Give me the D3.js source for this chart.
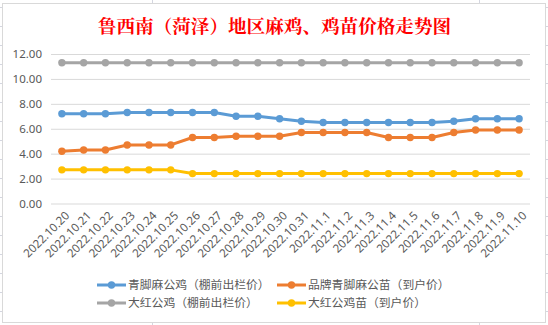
<!DOCTYPE html>
<html><head><meta charset="utf-8">
<script src="https://cdn.jsdelivr.net/npm/d3@7"></script>
<style>html,body{margin:0;padding:0;background:#fff;}svg{display:block;}</style>
</head><body>
<svg id="c" width="548" height="325"></svg>
<script>
const title = "鲁西南（菏泽）地区麻鸡、鸡苗价格走势图";
const categories = ["2022.10.20","2022.10.21","2022.10.22","2022.10.23","2022.10.24","2022.10.25","2022.10.26","2022.10.27","2022.10.28","2022.10.29","2022.10.30","2022.10.31","2022.11.1","2022.11.2","2022.11.3","2022.11.4","2022.11.5","2022.11.6","2022.11.7","2022.11.8","2022.11.9","2022.11.10"];
const seriesNames = ["青脚麻公鸡（棚前出栏价）","品牌青脚麻公苗（到户价）","大红公鸡（棚前出栏价）","大红公鸡苗（到户价）"];
const qingjiao = [7.2,7.2,7.2,7.3,7.3,7.3,7.3,7.3,7.0,7.0,6.8,6.6,6.5,6.5,6.5,6.5,6.5,6.5,6.6,6.8,6.8,6.8];
const pinpai   = [4.2,4.3,4.3,4.7,4.7,4.7,5.3,5.3,5.4,5.4,5.4,5.7,5.7,5.7,5.7,5.3,5.3,5.3,5.7,5.9,5.9,5.9];
const dahong   = [11.3,11.3,11.3,11.3,11.3,11.3,11.3,11.3,11.3,11.3,11.3,11.3,11.3,11.3,11.3,11.3,11.3,11.3,11.3,11.3,11.3,11.3];
const dahongMiao = [2.7,2.7,2.7,2.7,2.7,2.7,2.4,2.4,2.4,2.4,2.4,2.4,2.4,2.4,2.4,2.4,2.4,2.4,2.4,2.4,2.4,2.4];
const yTicks = [0,2,4,6,8,10,12];
const colors = ["#5B9BD5","#ED7D31","#A5A5A5","#FFC000"];

const series = [qingjiao, pinpai, dahong, dahongMiao];
const svg = d3.select("#c");

// spreadsheet cell lines outside chart
const cellG = svg.append("g").attr("stroke","#d4d6e0").attr("stroke-width",1);
for (let y = 7.5; y < 325; y += 19) {
  cellG.append("line").attr("x1",0).attr("x2",2).attr("y1",y).attr("y2",y);
  cellG.append("line").attr("x1",546).attr("x2",548).attr("y1",y).attr("y2",y);
}
[152.5, 479.5].forEach(x => {
  cellG.append("line").attr("x1",x).attr("x2",x).attr("y1",0).attr("y2",3);
  cellG.append("line").attr("x1",x).attr("x2",x).attr("y1",323).attr("y2",325);
});

// chart area
svg.append("rect").attr("x",2.5).attr("y",3.5).attr("width",543).attr("height",319)
  .attr("fill","#fff").attr("stroke","#d9d9d9");

svg.append("text").attr("x",274.5).attr("y",33).attr("text-anchor","middle")
  .attr("fill","#FF0000").attr("font-weight","bold")
  .attr("font-family","'Noto Serif CJK SC','Noto Sans CJK SC',serif").attr("font-size","18.6px")
  .text(title);

const x = d3.scalePoint().domain(categories).range([51,530]).padding(0.5);
const y = d3.scaleLinear().domain([0,12]).range([203.5,54]);

// gridlines
const yAxis = d3.axisLeft(y).tickValues(yTicks).tickSize(-(530-51)).tickFormat(d3.format(".2f"));
const ga = svg.append("g").attr("transform","translate(51,0)").call(yAxis);
ga.select(".domain").remove();
ga.selectAll(".tick line").attr("stroke","#d9d9d9").attr("stroke-width",1);
ga.selectAll(".tick text").attr("x",-9).attr("fill","#595959")
  .attr("font-family","'Noto Sans','Liberation Sans',sans-serif").attr("font-size","11.5px");

// x labels
const xAxis = d3.axisBottom(x).tickSize(0);
const gx = svg.append("g").attr("transform","translate(0,203.5)").call(xAxis);
gx.select(".domain").remove();
gx.selectAll(".tick text")
  .attr("fill","#595959").attr("font-family","'Noto Sans','Liberation Sans',sans-serif").attr("font-size","11.6px")
  .attr("text-anchor","end").attr("y",0).attr("dy","0.35em")
  .attr("transform","translate(5,10) rotate(-45)");

const line = d3.line().x((d,i)=>x(categories[i])).y(d=>y(d));
series.forEach((s,k)=>{
  svg.append("path").datum(s).attr("d",line).attr("fill","none")
    .attr("stroke",colors[k]).attr("stroke-width",3).attr("stroke-linejoin","round").attr("stroke-linecap","round");
  svg.append("g").selectAll("circle").data(s).join("circle")
    .attr("cx",(d,i)=>x(categories[i])).attr("cy",d=>y(d)).attr("r",3.7).attr("fill",colors[k]);
});

// legend
const legPos = [[97,285],[277,285],[97,303],[277,303]];
seriesNames.forEach((n,k)=>{
  const [lx,ly] = legPos[k];
  const g = svg.append("g");
  g.append("line").attr("x1",lx).attr("x2",lx+29).attr("y1",ly).attr("y2",ly)
    .attr("stroke",colors[k]).attr("stroke-width",3);
  g.append("circle").attr("cx",lx+14.5).attr("cy",ly).attr("r",3.7).attr("fill",colors[k]);
  g.append("text").attr("x",lx+31).attr("y",ly).attr("dy","0.36em")
    .attr("fill","#595959").attr("font-family","'Noto Sans CJK SC',sans-serif").attr("font-size","11.8px")
    .text(n);
});
</script>
</body></html>
